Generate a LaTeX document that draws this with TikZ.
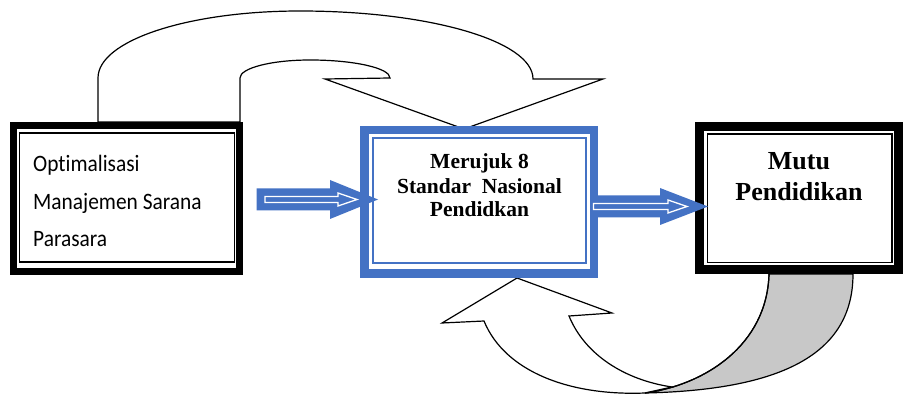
\documentclass[tikz,border=0pt]{standalone}
\usepackage{fontspec}
\setmainfont{Liberation Serif}
\newfontfamily\calfont[FakeStretch=0.91,Ligatures=NoCommon]{Carlito}
\definecolor{arrblue}{HTML}{4472C4}
\definecolor{shadegray}{HTML}{C8C8C8}
\tikzset{
  outline/.style={draw=black, line width=1.2pt, line join=miter},
  lefttext/.style={font=\calfont\fontsize{23.5}{28}\selectfont, anchor=base west, inner sep=0pt},
  midtext/.style={font=\bfseries\fontsize{21.5}{24}\selectfont, anchor=base, inner sep=0pt},
  righttext/.style={font=\bfseries\fontsize{26}{31}\selectfont, anchor=base, inner sep=0pt},
  blockarrow/.style={fill=arrblue},
  innerarrow/.style={draw=white, line width=1.3pt, fill=arrblue, line join=miter}
}
\begin{document}
\begin{tikzpicture}[x=1pt,y=-1pt]
\useasboundingbox (0,0) rectangle (905,395);

% top U-turn arrow
\draw[outline, fill=white] (240,122) -- (240,78)
  .. controls (240,68.1) and (271.3,60) .. (310,60)
  .. controls (354.2,60) and (390,68.1) .. (390,78)
  -- (325,79) -- (464,129) -- (603,79) -- (533,79)
  .. controls (533,40.9) and (428.7,11) .. (300,11)
  .. controls (188.4,11) and (98,40.4) .. (98,78)
  -- (98,122) -- cycle;

% bottom curved arrow: shaded back part
\draw[outline, fill=shadegray] (769,274) .. controls (767,345) and (705,385) .. (645,393)
  .. controls (780,390) and (853,355) .. (853,274) -- cycle;
% front part with arrow head
\draw[outline, fill=white] (484,321) .. controls (505,372) and (570,396) .. (645,393)
  -- (672,387) .. controls (625,380) and (585,355) .. (569,316)
  -- (612,313) -- (517,278) -- (442,323) -- cycle;
\draw[outline] (769,274) .. controls (767,345) and (705,385) .. (645,393);

% left box
\draw[line width=7pt] (13.5,125.5) rectangle (239.5,271.5);
\draw[line width=1.5pt] (19.5,133) rectangle (234.5,262);

% middle box
\draw[arrblue, line width=8.5pt] (364.25,130.25) rectangle (593.75,273.75);
\draw[arrblue, line width=2pt] (373,138) rectangle (586,263);

% right box
\draw[line width=9pt] (699.5,126.5) rectangle (898.5,269.5);
\draw[line width=1.5pt] (707.5,134) rectangle (892,262.5);

% blue arrow 1
\fill[blockarrow] (256.7,188.5) -- (330,188.5) -- (330,180) -- (378,199.5) -- (330,219) -- (330,210.5) -- (256.7,210.5) -- cycle;
\draw[innerarrow] (265,196.5) -- (338,196.5) -- (338,193) -- (357,199.5) -- (338,206) -- (338,202.5) -- (265,202.5) -- cycle;

% blue arrow 2
\fill[blockarrow] (590,195.5) -- (660,195.5) -- (660,188) -- (708,206.5) -- (660,225) -- (660,217.5) -- (590,217.5) -- cycle;
\draw[innerarrow] (593.5,203.5) -- (668,203.5) -- (668,200) -- (687,206.5) -- (668,213) -- (668,209.5) -- (593.5,209.5) -- cycle;

% texts
\node[lefttext] (l1) at (33,171.7) {Optimalisasi};
\node[lefttext] (l2) at (33,210) {Manajemen Sarana};
\node[lefttext] (l3) at (33,246.7) {Parasara};

\node[midtext] (m1) at (479.5,169) {Merujuk 8};
\node[midtext] (m2) at (479.5,193.3) {Standar\ \ Nasional};
\node[midtext] (m3) at (479.5,217) {Pendidkan};

\node[righttext] (r1) at (799,170) {Mutu};
\node[righttext] (r2) at (799,201) {Pendidikan};
\end{tikzpicture}
\end{document}
